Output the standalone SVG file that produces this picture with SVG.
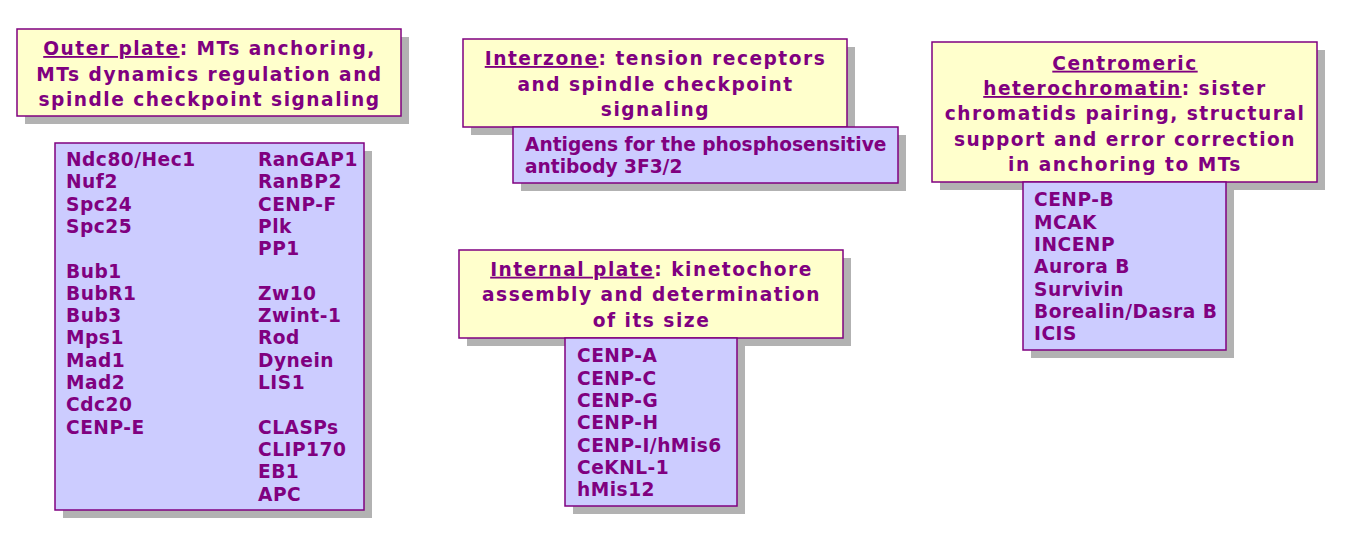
<svg xmlns="http://www.w3.org/2000/svg" width="1348" height="544" viewBox="0 0 1348 544">
<style>
.sh{fill:#b2b2b2}
.ti{fill:#ffffcc;stroke:#800080;stroke-width:1.5}
.li{fill:#ccccff;stroke:#800080;stroke-width:1.5}
text{font-family:"DejaVu Sans",Verdana,sans-serif;font-weight:bold;font-size:18.6px;fill:#800080;letter-spacing:0.5px}
.c{text-anchor:middle;letter-spacing:1.5px}
.a{letter-spacing:0}
.u{text-decoration:underline}
</style>
<rect width="1348" height="544" fill="#ffffff"/>
<g id="outer-title">
<rect class="sh" x="25" y="37" width="384" height="87"/>
<rect class="ti" x="17" y="29" width="384" height="87"/>
<text class="c" x="209.5" y="55"><tspan class="u">Outer plate</tspan>: MTs anchoring,</text>
<text class="c" x="209.5" y="80.5">MTs dynamics regulation and</text>
<text class="c" x="209.5" y="106">spindle checkpoint signaling</text>
</g>
<g id="outer-list">
<rect class="sh" x="63" y="151" width="309" height="367"/>
<rect class="li" x="55" y="143" width="309" height="367"/>
<text x="66" y="166">Ndc80/Hec1</text>
<text x="66" y="188.3">Nuf2</text>
<text x="66" y="210.6">Spc24</text>
<text x="66" y="232.9">Spc25</text>
<text x="66" y="277.5">Bub1</text>
<text x="66" y="299.8">BubR1</text>
<text x="66" y="322.1">Bub3</text>
<text x="66" y="344.4">Mps1</text>
<text x="66" y="366.7">Mad1</text>
<text x="66" y="389">Mad2</text>
<text x="66" y="411.3">Cdc20</text>
<text x="66" y="433.6">CENP-E</text>
<text x="258" y="166">RanGAP1</text>
<text x="258" y="188.3">RanBP2</text>
<text x="258" y="210.6">CENP-F</text>
<text x="258" y="232.9">Plk</text>
<text x="258" y="255.2">PP1</text>
<text x="258" y="299.8">Zw10</text>
<text x="258" y="322.1">Zwint-1</text>
<text x="258" y="344.4">Rod</text>
<text x="258" y="366.7">Dynein</text>
<text x="258" y="389">LIS1</text>
<text x="258" y="433.6">CLASPs</text>
<text x="258" y="455.9">CLIP170</text>
<text x="258" y="478.2">EB1</text>
<text x="258" y="500.5">APC</text>
</g>
<g id="interzone-title">
<rect class="sh" x="471" y="47" width="384" height="88"/>
<rect class="ti" x="463" y="39" width="384" height="88"/>
<text class="c" x="655.5" y="65"><tspan class="u">Interzone</tspan>: tension receptors</text>
<text class="c" x="655.5" y="90.5">and spindle checkpoint</text>
<text class="c" x="655.5" y="116">signaling</text>
</g>
<g id="antigens">
<rect class="sh" x="521" y="135" width="385" height="56"/>
<rect class="li" x="513" y="127" width="385" height="56"/>
<text class="a" x="525" y="150.7">Antigens for the phosphosensitive</text>
<text class="a" x="525" y="173.3">antibody 3F3/2</text>
</g>
<g id="centromeric-title">
<rect class="sh" x="940" y="50" width="385" height="140"/>
<rect class="ti" x="932" y="42" width="385" height="140"/>
<text class="c" x="1125" y="69.7"><tspan class="u">Centromeric</tspan></text>
<text class="c" x="1125" y="95"><tspan class="u">heterochromatin</tspan>: sister</text>
<text class="c" x="1125" y="120.3">chromatids pairing, structural</text>
<text class="c" x="1125" y="145.6">support and error correction</text>
<text class="c" x="1125" y="170.9">in anchoring to MTs</text>
</g>
<g id="centromeric-list">
<rect class="sh" x="1031" y="190" width="203" height="168"/>
<rect class="li" x="1023" y="182" width="203" height="168"/>
<text x="1034" y="206.3">CENP-B</text>
<text x="1034" y="228.6">MCAK</text>
<text x="1034" y="250.9">INCENP</text>
<text x="1034" y="273.2">Aurora B</text>
<text x="1034" y="295.5">Survivin</text>
<text x="1034" y="317.8">Borealin/Dasra B</text>
<text x="1034" y="340.1">ICIS</text>
</g>
<g id="internal-title">
<rect class="sh" x="467" y="258" width="384" height="88"/>
<rect class="ti" x="459" y="250" width="384" height="88"/>
<text class="c" x="651.5" y="275.7"><tspan class="u">Internal plate</tspan>: kinetochore</text>
<text class="c" x="651.5" y="301.2">assembly and determination</text>
<text class="c" x="651.5" y="326.7">of its size</text>
</g>
<g id="internal-list">
<rect class="sh" x="573" y="346" width="172" height="168"/>
<rect class="li" x="565" y="338" width="172" height="168"/>
<text x="577" y="362.3">CENP-A</text>
<text x="577" y="384.6">CENP-C</text>
<text x="577" y="406.9">CENP-G</text>
<text x="577" y="429.2">CENP-H</text>
<text x="577" y="451.5">CENP-I/hMis6</text>
<text x="577" y="473.8">CeKNL-1</text>
<text x="577" y="496.1">hMis12</text>
</g>
<g id="connectors"></g>
</svg>
